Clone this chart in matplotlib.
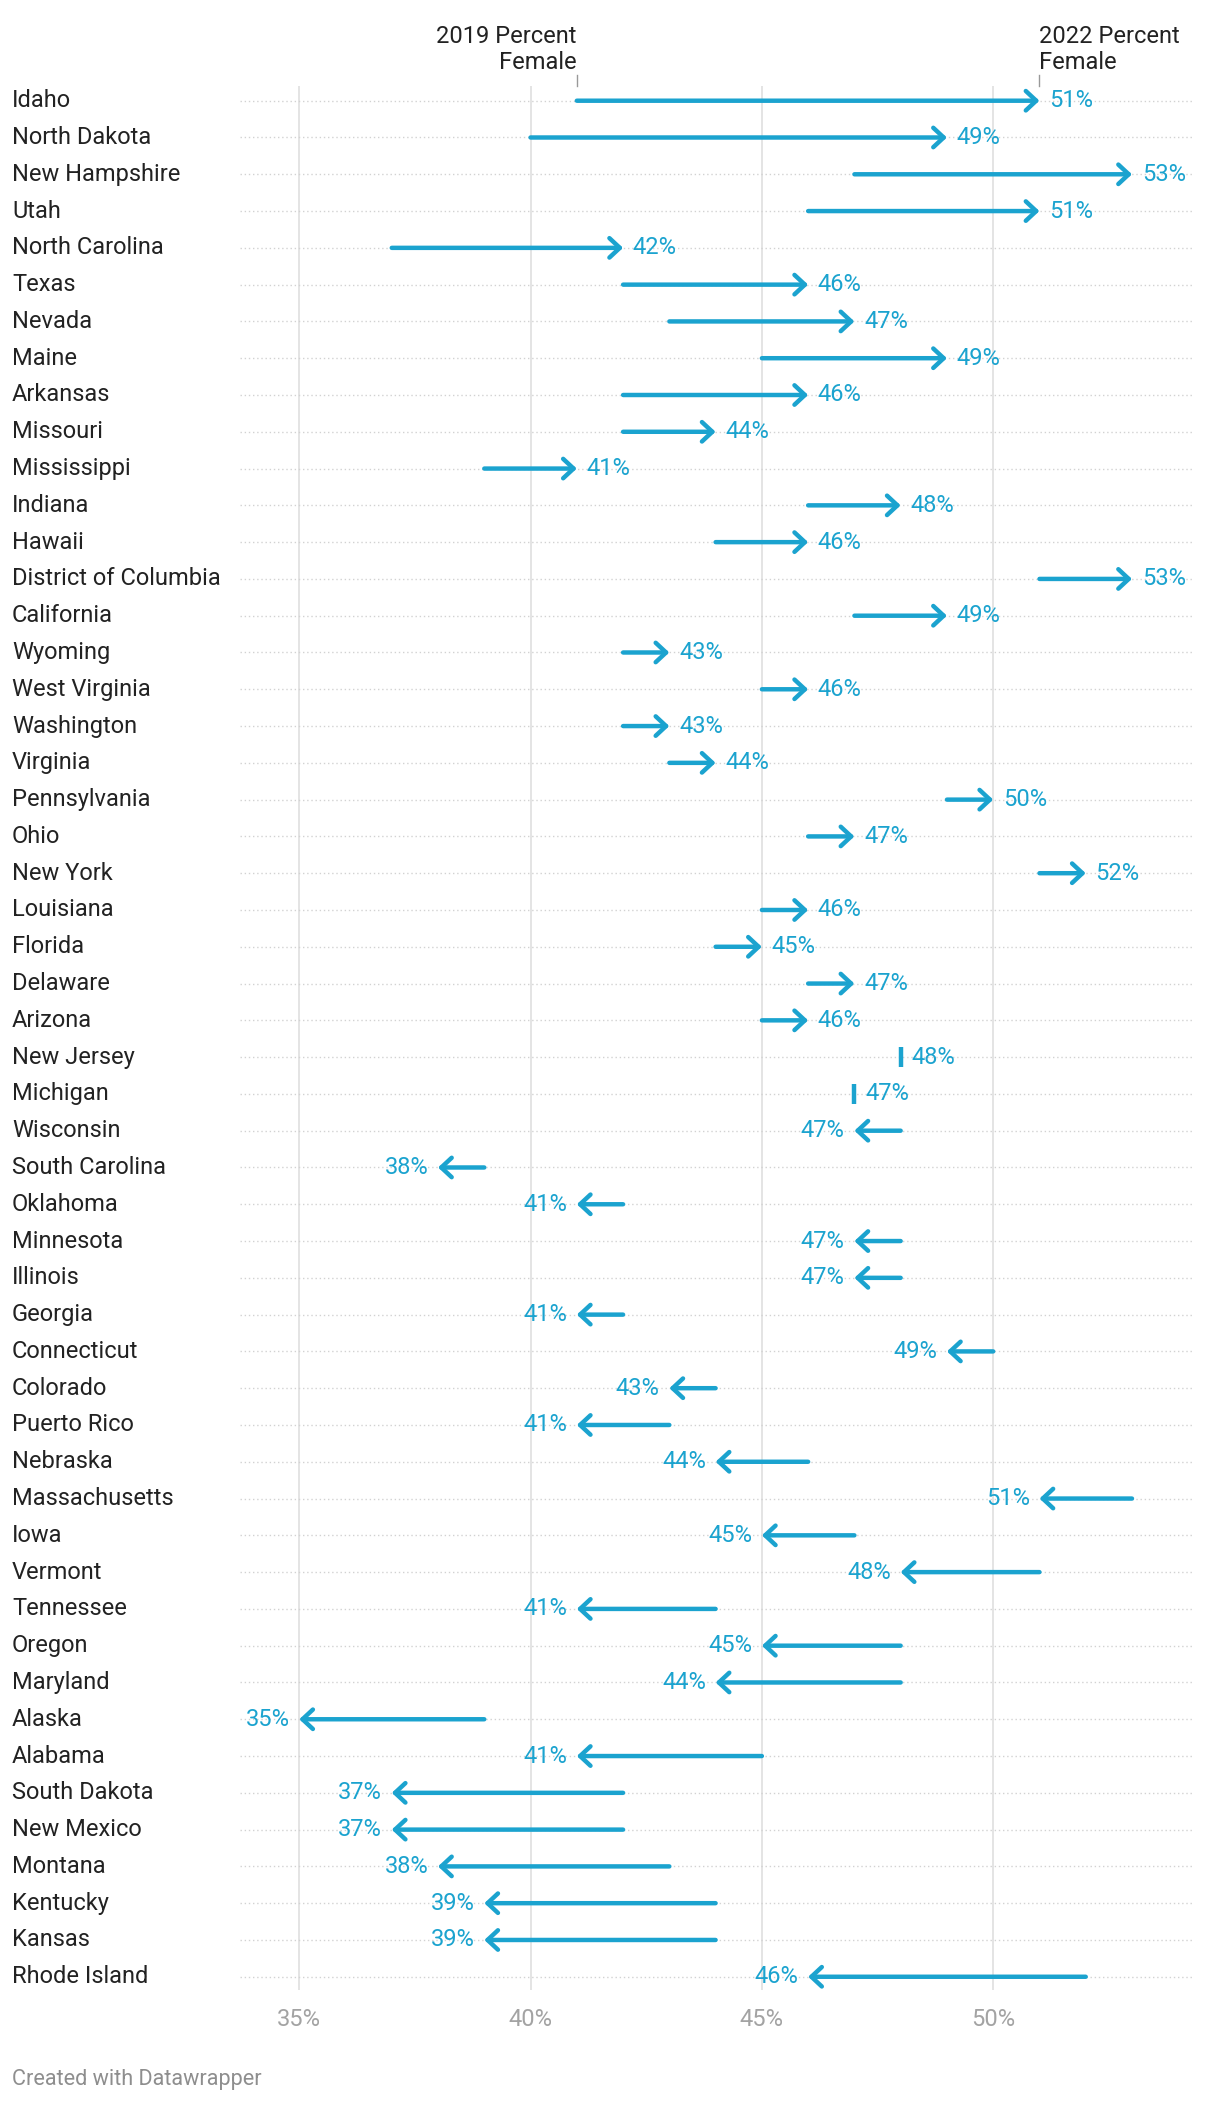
import numpy as np
import matplotlib.pyplot as plt
from matplotlib.transforms import blended_transform_factory

plt.rcParams['font.family'] = ['Roboto', 'DejaVu Sans']

# Data: percent female, 2019 -> 2022
states = ["Idaho", "North Dakota", "New Hampshire", "Utah", "North Carolina",
          "Texas", "Nevada", "Maine", "Arkansas", "Missouri", "Mississippi",
          "Indiana", "Hawaii", "District of Columbia", "California", "Wyoming",
          "West Virginia", "Washington", "Virginia", "Pennsylvania", "Ohio",
          "New York", "Louisiana", "Florida", "Delaware", "Arizona",
          "New Jersey", "Michigan", "Wisconsin", "South Carolina", "Oklahoma",
          "Minnesota", "Illinois", "Georgia", "Connecticut", "Colorado",
          "Puerto Rico", "Nebraska", "Massachusetts", "Iowa", "Vermont",
          "Tennessee", "Oregon", "Maryland", "Alaska", "Alabama",
          "South Dakota", "New Mexico", "Montana", "Kentucky", "Kansas",
          "Rhode Island"]
pct_2019 = [41, 40, 47, 46, 37, 42, 43, 45, 42, 42, 39, 46, 44, 51, 47, 42,
            45, 42, 43, 49, 46, 51, 45, 44, 46, 45, 48, 47, 48, 39, 42, 48,
            48, 42, 50, 44, 43, 46, 53, 47, 51, 44, 48, 48, 39, 45, 42, 42,
            43, 44, 44, 52]
pct_2022 = [51, 49, 53, 51, 42, 46, 47, 49, 46, 44, 41, 48, 46, 53, 49, 43,
            46, 43, 44, 50, 47, 52, 46, 45, 47, 46, 48, 47, 47, 38, 41, 47,
            47, 41, 49, 43, 41, 44, 51, 45, 48, 41, 45, 44, 35, 41, 37, 37,
            38, 39, 39, 46]
xticks = [35, 40, 45, 50]

BLUE = "#1ba3cf"
W, H = 1220, 2104
FS = 17

fig = plt.figure(figsize=(W / 100, H / 100), dpi=100)
ax = fig.add_axes([240 / W, 1 - 1990 / H, 954 / W, (1990 - 86) / H])

n = len(states)
rows = np.arange(n)
ax.set_xlim(33.72, 54.34)
ax.set_ylim(n - 1 + 0.36, -0.40)

# grid
for t in xticks:
    ax.axvline(t, color="#e2e2e2", lw=1.3, zorder=0)
ax.hlines(rows, *ax.get_xlim(), colors="#d2d2d2", lw=1.0,
          linestyles=(0, (1, 2)), zorder=0)

for s in ax.spines.values():
    s.set_visible(False)
ax.set_yticks([])
ax.set_xticks(xticks)
ax.set_xticklabels([f"{t}%" for t in xticks])
ax.tick_params(axis="x", length=0, pad=13, labelsize=FS, labelcolor="#a3a3a3")

label_tr = blended_transform_factory(fig.transFigure, ax.transData)
for i, (name, a, b) in enumerate(zip(states, pct_2019, pct_2022)):
    ax.text(12 / W, i, name, transform=label_tr, ha="left", va="center",
            fontsize=FS, color="#222222")
    if a == b:
        ax.plot(b, i, marker="|", ms=14, mew=3.2, color=BLUE)
        ax.annotate(f"{b}%", (b, i), xytext=(8, 0), textcoords="offset points",
                    ha="left", va="center", fontsize=FS, color=BLUE)
        continue
    ax.annotate("", xy=(b, i), xytext=(a, i),
                arrowprops=dict(arrowstyle="->,head_length=0.75,head_width=0.7",
                                color=BLUE, lw=3.2, shrinkA=0, shrinkB=0,
                                mutation_scale=10, capstyle="round"))
    off = 7 if b > a else -7
    ax.annotate(f"{b}%", (b, i), xytext=(off, 0), textcoords="offset points",
                ha="left" if b > a else "right", va="center",
                fontsize=FS, color=BLUE)

# column headers pointing at Idaho's values
hdr_tr = blended_transform_factory(ax.transData, fig.transFigure)
ax.text(pct_2019[0], 1 - 74 / H, "2019 Percent\nFemale", transform=hdr_tr,
        ha="right", va="bottom", fontsize=FS, color="#222222", linespacing=1.18)
ax.text(pct_2022[0], 1 - 74 / H, "2022 Percent\nFemale", transform=hdr_tr,
        ha="left", va="bottom", fontsize=FS, color="#222222", linespacing=1.18)
for v in (pct_2019[0], pct_2022[0]):
    ax.plot([v, v], [1 - 75 / H, 1 - 86 / H], transform=hdr_tr, color="#999999",
            lw=1, clip_on=False)

fig.text(12 / W, 1 - 2080 / H, "Created with Datawrapper", ha="left",
         va="center", fontsize=15.6, color="#8e8e8e")

fig.savefig("out.png", dpi=100, facecolor="white")
